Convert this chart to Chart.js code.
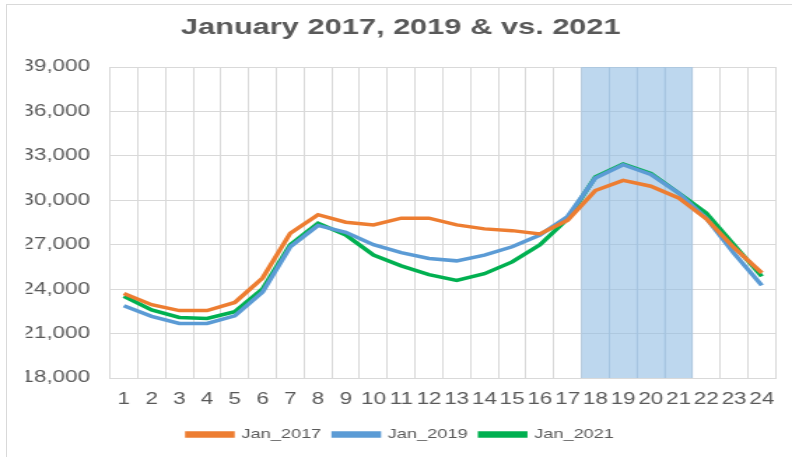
<!DOCTYPE html>
<html>
<head>
<meta charset="utf-8">
<script src="https://cdn.jsdelivr.net/npm/chart.js@4"></script>
<style>
    html, body { margin: 0; padding: 0; background: #fff; }
    #wrap { position: relative; width: 792px; height: 457px; }
    #frame { position: absolute; left: 6px; top: 4px; right: 0; bottom: 0; border-left: 1px solid #d9d9d9; border-top: 1px solid #d9d9d9; }
    canvas { position: absolute; left: 0; top: 0; }
</style>
</head>
<body>
<div id="wrap">
    <div id="frame"></div>
    <!-- drawn narrower and stretched to 792 wide, like the original picture -->
    <canvas id="myChart" width="566" height="457" style="width:792px;height:457px"></canvas>
</div>
<script>
// hours of the day
var hours = ["1", "2", "3", "4", "5", "6", "7", "8", "9", "10", "11", "12",
    "13", "14", "15", "16", "17", "18", "19", "20", "21", "22", "23", "24"];

var jan2017 = [23700, 22950, 22550, 22550, 23100, 24750, 27780, 29030, 28520, 28340, 28790, 28790,
    28340, 28070, 27950, 27730, 28650, 30660, 31340, 30950, 30160, 28750, 26800, 25100];
var jan2019 = [22880, 22160, 21680, 21680, 22200, 23800, 26860, 28300, 27840, 27000, 26460, 26070,
    25910, 26300, 26860, 27650, 28910, 31500, 32400, 31750, 30500, 28790, 26410, 24250];
var jan2021 = [23520, 22600, 22090, 22020, 22480, 24020, 27000, 28450, 27660, 26300, 25570, 24980,
    24590, 25040, 25840, 27000, 28750, 31570, 32450, 31820, 30500, 29140, 26980, 24860];

// peak hours highlighted
var peakHours = ["18", "19", "20", "21"];

var yMin = 18000;
var yMax = 39000;
var yStep = 3000;

var band = hours.map(function(h) {
    return peakHours.indexOf(h) >= 0 ? [yMin, yMax] : null;
});

var txt = "#595959";
var gridCol = "#d9d9d9";
var fam = "Liberation Sans, Arial, sans-serif";

var ctx = document.getElementById("myChart").getContext("2d");
var chart = new Chart(ctx, {
    type: "line",
    data: {
        labels: hours,
        datasets: [
            {
                label: "Jan_2017",
                data: jan2017,
                borderColor: "#ED7D31",
                backgroundColor: "#ED7D31",
                borderWidth: 3.5,
                pointRadius: 0,
                tension: 0,
                order: 1
            },
            {
                label: "Jan_2019",
                data: jan2019,
                borderColor: "#5B9BD5",
                backgroundColor: "#5B9BD5",
                borderWidth: 3.5,
                pointRadius: 0,
                tension: 0,
                order: 1
            },
            {
                label: "Jan_2021",
                data: jan2021,
                borderColor: "#00B050",
                backgroundColor: "#00B050",
                borderWidth: 3.5,
                pointRadius: 0,
                tension: 0,
                order: 1
            },
            {
                type: "bar",
                label: "peak",
                data: band,
                backgroundColor: "rgba(145,188,227,0.6)",
                borderWidth: 0,
                barPercentage: 1,
                categoryPercentage: 1,
                order: 10
            }
        ]
    },
    options: {
        responsive: false,
        animation: false,
        devicePixelRatio: 1,
        layout: { padding: { left: 18.5, right: 11.7, top: 0, bottom: 6 } },
        plugins: {
            title: {
                display: true,
                text: "January 2017, 2019 & vs. 2021",
                color: txt,
                font: { family: fam, size: 22, weight: "bold" },
                padding: { top: 15, bottom: 25.6 }
            },
            legend: {
                position: "bottom",
                labels: {
                    color: txt,
                    font: { family: fam, size: 13 },
                    boxWidth: 32,
                    boxHeight: 3,
                    padding: 9,
                    filter: function(item) { return item.text !== "peak"; }
                }
            },
            tooltip: { enabled: false }
        },
        scales: {
            x: {
                offset: true,
                grid: { color: gridCol, offset: true, drawTicks: false },
                border: { color: gridCol },
                ticks: {
                    color: txt,
                    font: { family: fam, size: 16 },
                    autoSkip: false,
                    maxRotation: 0,
                    padding: 12
                },
                afterFit: function(scale) { scale.height = 41; }
            },
            y: {
                min: yMin,
                max: yMax,
                grid: { color: gridCol, drawTicks: false },
                border: { display: false },
                ticks: {
                    stepSize: yStep,
                    color: txt,
                    font: { family: fam, size: 16 },
                    padding: 14.3,
                    callback: function(v) { return v.toLocaleString("en-US"); }
                },
                afterFit: function(scale) { scale.width = 60.1; }
            }
        }
    }
});
</script>
</body>
</html>
